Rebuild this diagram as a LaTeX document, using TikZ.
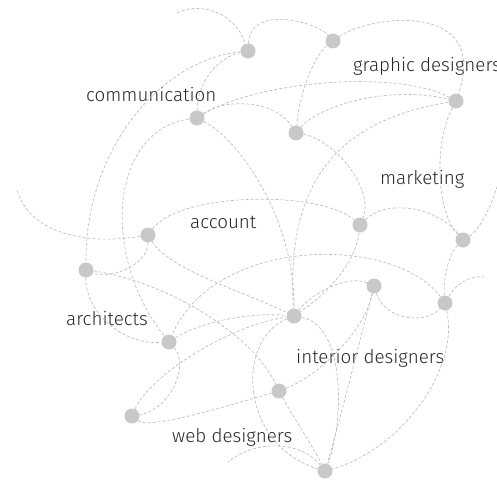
\documentclass[tikz,border=0pt]{standalone}
\usepackage{fontspec}
\setmainfont{Fira Sans Light}
\definecolor{dotgray}{RGB}{200,200,200}
\definecolor{linkgray}{RGB}{190,190,190}
\definecolor{labelgray}{RGB}{40,40,40}

\begin{document}
\begin{tikzpicture}[x=1pt,y=-1pt,
    dot/.style={circle,fill=dotgray,minimum size=15pt,inner sep=0pt},
    link/.style={draw=linkgray,line width=0.7pt,dash pattern=on 3pt off 2pt},
    tag/.style={text=labelgray,font=\fontsize{18.8}{21}\selectfont,anchor=base west,inner sep=0pt}]
    \useasboundingbox (0,0) rectangle (497,479);

    % dots
    \node[dot] (A) at (248,51) {};
    \node[dot] (B) at (333,41) {};
    \node[dot] (G) at (456,101) {};
    \node[dot] (C) at (197,118) {};
    \node[dot] (D) at (296,133) {};
    \node[dot] (M) at (360,225) {};
    \node[dot] (N) at (463,240) {};
    \node[dot] (Ac) at (148,235) {};
    \node[dot] (Ar) at (86,270) {};
    \node[dot] (P) at (374,286) {};
    \node[dot] (Q) at (445,303) {};
    \node[dot] (I) at (294,316) {};
    \node[dot] (R) at (169,342) {};
    \node[dot] (S) at (279,391) {};
    \node[dot] (W) at (132,416) {};
    \node[dot] (T) at (325,471) {};

    % loose ends
    \coordinate (e1) at (177,13);
    \coordinate (e2) at (17,190);
    \coordinate (e3) at (500,175);
    \coordinate (e4) at (484,277);
    \coordinate (e5) at (228,462);

    % labels
    \node[tag] (lcom) at (86,101.5) {communication};
    \node[tag] (lgra) at (353,71.5) {graphic designers};
    \node[tag] (lmar) at (380,184) {marketing};
    \node[tag] (lacc) at (190,228) {account};
    \node[tag] (larc) at (66,325) {architects};
    \node[tag] (lint) at (296,363) {interior designers};
    \node[tag] (lweb) at (172,442) {web designers};

    % links
    \draw[link] (e1) .. controls (195,3) and (233,8) .. (A);
    \draw[link] (A) .. controls (251,3) and (318,23) .. (B);
    \draw[link] (B) .. controls (370,15) and (490,0) .. (G);
    \draw[link] (A) .. controls (215,58) and (197,85) .. (C);
    \draw[link] (A) .. controls (160,60) and (85,150) .. (Ar);
    \draw[link] (C) .. controls (110,130) and (100,255) .. (R);
    \draw[link] (C) .. controls (225,98) and (275,100) .. (D);
    \draw[link] (C) .. controls (260,80) and (400,70) .. (G);
    \draw[link] (D) .. controls (320,105) and (390,85) .. (G);
    \draw[link] (B) .. controls (315,55) and (300,90) .. (D);
    \draw[link] (D) .. controls (335,140) and (375,190) .. (M);
    \draw[link] (G) .. controls (340,120) and (285,180) .. (I);
    \draw[link] (C) .. controls (240,140) and (295,220) .. (I);
    \draw[link] (G) .. controls (435,140) and (435,210) .. (N);
    \draw[link] (N) .. controls (480,230) and (495,200) .. (e3);
    \draw[link] (Ac) .. controls (180,192) and (320,190) .. (M);
    \draw[link] (M) .. controls (385,200) and (435,205) .. (N);
    \draw[link] (M) .. controls (355,265) and (325,295) .. (I);
    \draw[link] (Ac) .. controls (148,265) and (110,280) .. (Ar);
    \draw[link] (Ac) .. controls (90,245) and (30,235) .. (e2);
    \draw[link] (Ac) .. controls (170,270) and (240,290) .. (I);
    \draw[link] (Ar) .. controls (160,280) and (250,330) .. (S);
    \draw[link] (Ar) .. controls (85,310) and (120,345) .. (R);
    \draw[link] (R) .. controls (190,365) and (170,410) .. (W);
    \draw[link] (W) .. controls (150,375) and (230,325) .. (I);
    \draw[link] (R) .. controls (200,322) and (250,312) .. (I);
    \draw[link] (Q) .. controls (395,235) and (215,235) .. (R);
    \draw[link] (W) .. controls (150,430) and (230,405) .. (S);
    \draw[link] (S) .. controls (320,375) and (365,330) .. (P);
    \draw[link] (S) .. controls (292,415) and (315,450) .. (T);
    \draw[link] (I) .. controls (235,340) and (240,445) .. (T);
    \draw[link] (I) .. controls (345,325) and (345,420) .. (T);
    \draw[link] (P) .. controls (360,340) and (340,420) .. (T);
    \draw[link] (P) .. controls (350,275) and (315,290) .. (I);
    \draw[link] (P) .. controls (385,320) and (425,325) .. (Q);
    \draw[link] (N) .. controls (448,255) and (443,280) .. (Q);
    \draw[link] (Q) .. controls (455,285) and (470,275) .. (e4);
    \draw[link] (Q) .. controls (460,370) and (400,450) .. (T);
    \draw[link] (T) .. controls (300,440) and (255,440) .. (e5);
\end{tikzpicture}
\end{document}
